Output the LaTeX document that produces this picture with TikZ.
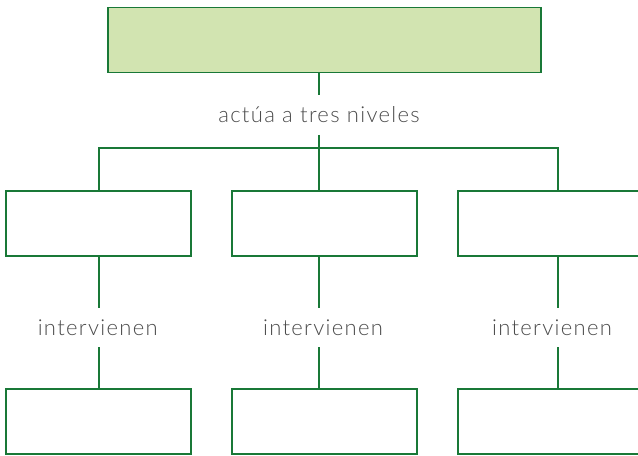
\documentclass[tikz,border=0pt]{standalone}
\usepackage{fontspec}
\setmainfont{Lato}[UprightFont=* Light]
\newfontfamily\linkfont{Lato}[UprightFont=* Light, LetterSpace=6]
\usetikzlibrary{positioning}

\definecolor{mapgreen}{RGB}{25,120,55}
\definecolor{mapfill}{RGB}{210,228,177}
\definecolor{mapgrey}{RGB}{75,75,75}

\tikzset{
  concept/.style={draw=mapgreen, line width=1.3pt, minimum width=138.75pt,
    minimum height=48.75pt, inner sep=0pt},
  linkword/.style={text=mapgrey, font=\linkfont\fontsize{16.5}{19}\selectfont,
    minimum height=29.25pt, inner sep=0pt},
  link/.style={draw=mapgreen, line width=1.3pt}
}

\begin{document}
\begin{tikzpicture}[x=0.75pt, y=-0.75pt]
      \useasboundingbox (0,0) rectangle (638,455);
      % main concept
      \node[concept, fill=mapfill, minimum width=324.75pt] (top) at (324.5,40) {};
      \node[linkword] (levels) at (319,115) {actúa a tres niveles};
      % branches
      \coordinate (bus1) at (98.7,148);
      \coordinate (bus2) at (319,148);
      \coordinate (bus3) at (558,148);
      \node[concept] (mid1) at (98.4,223.5) {};
      \node[concept] (mid2) at (324.2,223.5) {};
      \node[concept] (mid3) at (550.2,223.5) {};
      \node[linkword] (int1) at (97.7,327.5) {intervienen};
      \node[linkword] (int2) at (323,327.5) {intervienen};
      \node[linkword] (int3) at (552,327.5) {intervienen};
      \node[concept] (low1) at (98.4,421.8) {};
      \node[concept] (low2) at (324.2,421.8) {};
      \node[concept] (low3) at (550.2,421.8) {};
      % connectors
      \draw[link] (top.south -| bus2) -- (bus2 |- levels.north);
      \draw[link] (bus2 |- levels.south) -- (bus2);
      \draw[link] (bus1 |- mid1.north) -- (bus1) -- (bus3) -- (bus3 |- mid3.north);
      \draw[link] (bus2) -- (bus2 |- mid2.north);
      \foreach \i in {1,2,3} {
        \draw[link] (bus\i |- mid\i.south) -- (bus\i |- int\i.north);
        \draw[link] (bus\i |- int\i.south) -- (bus\i |- low\i.north);
      }
    \end{tikzpicture}
\end{document}
